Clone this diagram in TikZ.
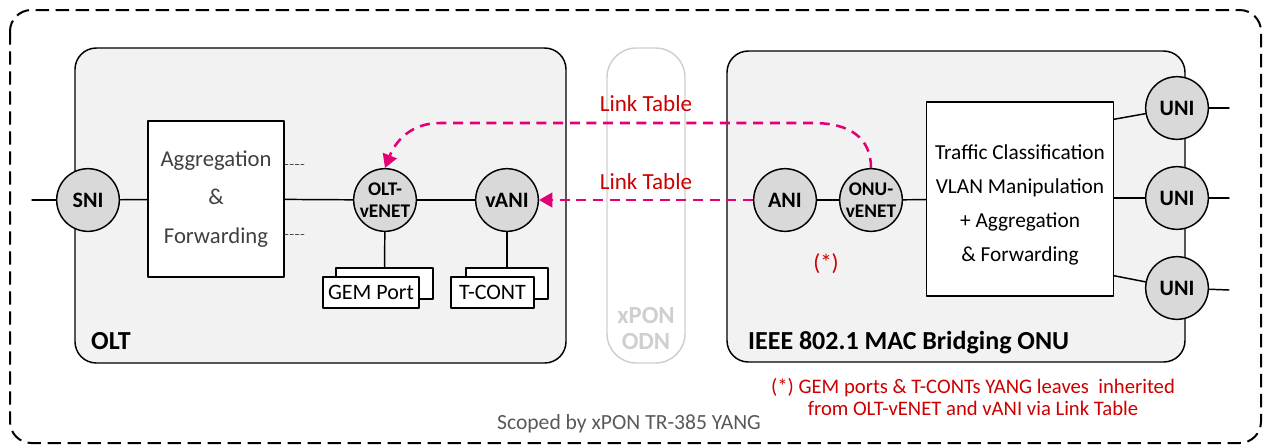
\documentclass[tikz,border=0pt]{standalone}
\usepackage{fontspec}
\setmainfont{Carlito}
\usetikzlibrary{arrows.meta,calc}
\definecolor{tmagenta}{HTML}{E20074}
\definecolor{notered}{HTML}{CC0000}
\definecolor{boxgray}{HTML}{F2F2F2}
\definecolor{portgray}{HTML}{D9D9D9}
\definecolor{odngray}{HTML}{CFCFCF}
\tikzset{>={Triangle[length=10pt,width=11pt]},
every picture/.append style={
    line join=round,
    line cap=round,
    line width=1.1pt
  },
  port/.style={circle,draw,fill=portgray,minimum size=47pt,inner sep=0pt,align=center,font=\fontsize{16.5}{17}\bfseries},
  portsmall/.style={port,font=\fontsize{14.5}{16.5}\bfseries},
  funcbox/.style={draw,fill=white,inner sep=0pt,align=center},
  leafbox/.style={draw,fill=white,inner sep=0pt,minimum height=23.5pt,font=\fontsize{16.5}{18}\selectfont},
  linkarrow/.style={tmagenta,line width=1.9pt,dash pattern=on 7.5pt off 5pt,line cap=butt,->},
  linklabel/.style={text=notered,font=\fontsize{17.3}{19}\selectfont}
}
\begin{document}
\begin{tikzpicture}[x=0.75pt,y=-0.75pt]
        \useasboundingbox (0,0) rectangle (1264,444);
        \draw [line width=1.5pt,dash pattern=on 10pt off 5pt,line cap=butt,rounded corners=16pt] (10,10) rectangle (1261,443);
        \draw [fill=boxgray,rounded corners=16pt] (75,48) rectangle (566,363);
        \draw [odngray,rounded corners=22pt] (607,48) rectangle (685,363);
        \draw [fill=boxgray,rounded corners=16pt] (727,51) rectangle (1185,362);
        \node [anchor=base west,font=\fontsize{19.5}{21}\bfseries] (oltlabel) at (86,349) {OLT};
        \node [anchor=base west,font=\fontsize{19.5}{21}\bfseries] (onulabel) at (743,349) {IEEE 802.1 MAC Bridging ONU};
        \node [text=odngray,align=center,font=\fontsize{18.5}{19.5}\bfseries] (odnlabel) at (646,328) {xPON\\ODN};
        % OLT side
        \node [port] (sni) at (88,200) {SNI};
        \node [funcbox,minimum width=102pt,minimum height=117pt,text=black!75,font=\fontsize{17}{29}\selectfont] (aggbox) at (216,199) {Aggregation\\\&\\Forwarding};
        \node [portsmall] (oltvenet) at (385,200) {OLT-\\vENET};
        \node [port] (vani) at (507,200) {vANI};
        \node [leafbox,minimum width=73pt] (gemback) at (384.5,283.5) {};
        \node [leafbox,minimum width=72pt] (gemport) at (371,292.5) {GEM Port};
        \node [leafbox,minimum width=61.5pt] (tcontback) at (507,283.5) {};
        \node [leafbox,minimum width=62pt] (tcont) at (492.5,292.5) {T-CONT};
        \coordinate (sniin) at (32,200);
        \coordinate (dotup) at (305,164);
        \coordinate (dotdown) at (305,234);
        \draw (sniin) -- (sni);
        \draw (sni) -- (aggbox);
        \draw (aggbox) -- (oltvenet);
        \draw (oltvenet) -- (vani);
        \draw (oltvenet) -- (gemback);
        \draw (vani) -- (tcontback);
        \draw [line width=0.5pt,dash pattern=on 2.5pt off 1.5pt,black!70] (aggbox.east |- dotup) -- (dotup);
        \draw [line width=0.5pt,dash pattern=on 2.5pt off 1.5pt,black!70] (aggbox.east |- dotdown) -- (dotdown);
        % ONU side
        \node [port] (ani) at (785,200) {ANI};
        \node [portsmall] (onuvenet) at (871,200) {ONU-\\vENET};
        \node [funcbox,minimum width=140pt,minimum height=145.5pt] (trafbox) at (1020,199) {};
        \node [align=center,font=\fontsize{16}{25.3}\selectfont] (traftext) at (1020,205) {Traffic Classification\\VLAN Manipulation\\+ Aggregation\\\& Forwarding};
        \node [port] (uni1) at (1177,108) {UNI};
        \node [port] (uni2) at (1177,198) {UNI};
        \node [port] (uni3) at (1177,288) {UNI};
        \coordinate (uniout1) at (1229,108);
        \coordinate (uniout2) at (1229,198);
        \coordinate (uniout3) at (1229,290);
        \draw (ani) -- (onuvenet);
        \draw (onuvenet) -- (trafbox);
        \draw ($(trafbox.north east)+(0,18)$) -- (uni1);
        \draw (trafbox.east |- uni2) -- (uni2);
        \draw ($(trafbox.south east)+(0,-21)$) -- (uni3);
        \draw (uni1) -- (uniout1);
        \draw (uni2) -- (uniout2);
        \draw (uni3) -- (uniout3);
        % link table
        \draw [linkarrow] (ani) -- (vani);
        \draw [linkarrow] (onuvenet.north) .. controls (871,138) and (850,123) .. (813,123) -- (440,123) .. controls (412,123) and (396,140) .. (oltvenet.north);
        \node [linklabel] (linkup) at (646,104) {Link Table};
        \node [linklabel] (linkdown) at (646,182) {Link Table};
        \node [linklabel] (star) at (826,264) {(*)};
        \node [text=notered,align=center,font=\fontsize{15.5}{16.5}\selectfont] (note) at (973,397) {(*) GEM ports \& T-CONTs YANG leaves\ \ inherited\\from OLT-vENET and vANI via Link Table};
        \node [text=black!65,font=\fontsize{16.2}{17}\selectfont] (scoped) at (629,424) {Scoped by xPON TR-385 YANG};
    \end{tikzpicture}
\end{document}
